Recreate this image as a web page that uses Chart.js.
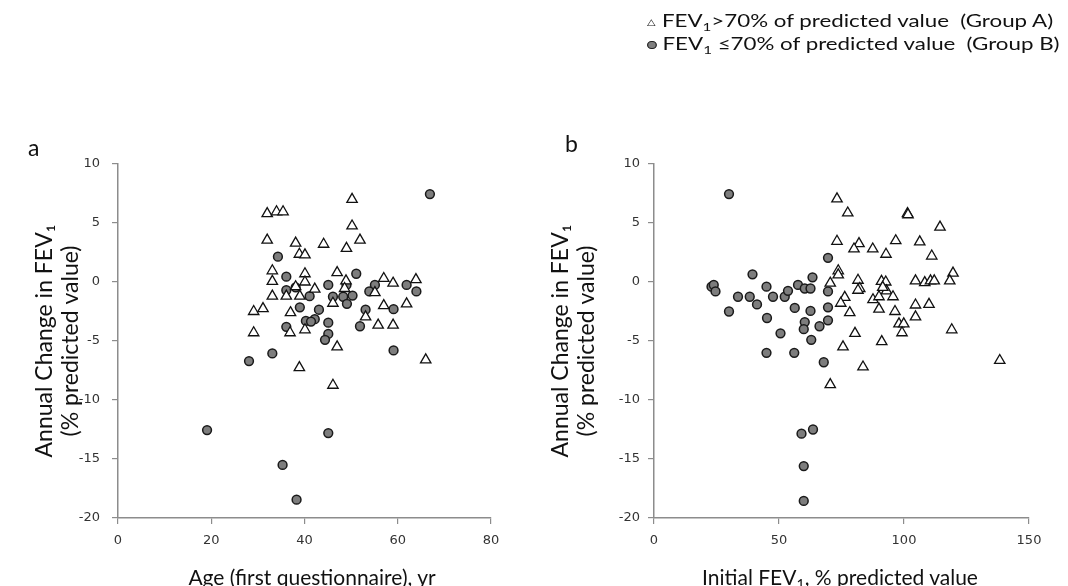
<!DOCTYPE html>
<html><head><meta charset="utf-8">
<script src="https://cdn.jsdelivr.net/npm/chart.js@4/dist/chart.umd.min.js"></script>
<style>
html,body{margin:0;padding:0;background:#fff;width:1068px;height:586px;overflow:hidden;}
.wrap{position:absolute;top:0;height:586px;width:534px;}
#wa{left:0}
#wb{left:534px}
.lbl{position:absolute;font-family:Lato,"Liberation Sans",sans-serif;color:#111;white-space:nowrap;line-height:1;}
.xt{font-size:21px;transform:translateX(-50%);}
sub{font-size:68%;vertical-align:-0.3em;line-height:0}
.leg{font-size:18px;transform:scaleX(1.24);transform-origin:0 50%;}
.tri{display:inline-block;font-size:9px;width:12px;vertical-align:2px;}
.dot{display:inline-block;width:5.5px;height:6.5px;border-radius:50%;background:#7f7f7f;border:1.2px solid #222;margin-right:5px;vertical-align:1px;}
.grp{margin-left:9px;}
</style></head>
<body>
<div class="wrap" id="wa"><canvas id="ca"></canvas></div>
<div class="wrap" id="wb"><canvas id="cb"></canvas></div>
<div class="lbl" style="left:28px;top:136px;font-size:23px">a</div>
<div class="lbl" style="left:565px;top:132px;font-size:23px">b</div>
<div class="lbl xt" style="left:312px;top:566px">Age (first questionnaire), yr</div>
<div class="lbl xt" style="left:840px;top:566px">Initial FEV<sub>1</sub>, % predicted value</div>
<div class="lbl leg" style="left:647px;top:11px"><span class="tri">△</span>FEV<sub>1</sub>&gt;70% of predicted value<span class="grp">(Group A)</span></div>
<div class="lbl leg" style="left:647px;top:34px"><span class="dot"></span>FEV<sub>1</sub> ≤70% of predicted value<span class="grp">(Group B)</span></div>
<script>
// Panel a: age vs annual change
const ageGroupA = [32.0,34.0,35.4,50.2,50.2,32.0,38.1,44.1,49.0,51.9,38.9,40.1,33.1,33.1,40.1,40.1,47.0,48.9,57.0,59.0,63.9,33.1,36.1,39.0,42.2,29.1,31.1,37.0,46.1,53.1,55.1,57.0,61.9,29.1,36.9,40.1,55.8,59.0,47.0,38.9,46.1,38.1,48.6,66.0];
const changeByAgeA = [5.8,5.95,5.95,7.0,4.75,3.55,3.3,3.2,2.85,3.55,2.35,2.3,0.95,0.05,0.7,0.0,0.8,0.1,0.3,-0.1,0.2,-1.2,-1.2,-1.2,-0.6,-2.5,-2.25,-2.6,-1.8,-2.95,-0.9,-2.0,-1.85,-4.3,-4.3,-4.05,-3.65,-3.65,-5.5,-7.25,-8.75,-0.4,-0.55,-6.6];
const ageGroupB = [66.9,34.3,36.1,51.1,45.1,49.0,55.1,53.9,61.9,64.0,41.1,46.1,48.3,50.3,49.1,39.0,43.1,59.1,53.1,40.3,42.2,45.1,51.9,36.1,45.1,44.4,33.1,59.1,36.1,38.1,28.1,19.1,45.1,35.3,38.3,41.4];
const changeByAgeB = [7.45,2.15,0.45,0.7,-0.25,-0.25,-0.25,-0.8,-0.25,-0.8,-1.2,-1.25,-1.25,-1.15,-1.85,-2.15,-2.35,-2.3,-2.35,-3.3,-3.15,-3.45,-3.75,-3.8,-4.4,-4.9,-6.05,-5.8,-0.7,-0.45,-6.7,-12.55,-12.8,-15.5,-18.45,-3.35];
// Panel b: initial FEV1 vs annual change
const fevGroupA = [73.2,77.5,101.4,101.6,114.4,73.2,82.0,80.0,87.5,92.8,96.7,106.3,111.1,73.7,73.7,70.5,81.6,91.0,92.7,104.6,108.3,110.6,112.1,119.6,118.3,82.3,81.6,76.3,74.7,87.6,93.0,95.6,78.3,90.0,96.4,104.6,110.0,104.6,98.0,99.9,99.2,119.1,80.4,91.1,75.6,83.6,70.5,138.3,91.5,90.0];
const changeByFevA = [7.05,5.85,5.8,5.7,4.65,3.45,3.25,2.8,2.8,2.35,3.5,3.4,2.2,0.95,0.6,-0.1,0.15,0.05,0.0,0.1,-0.05,0.1,0.1,0.75,0.1,-0.55,-0.7,-1.3,-1.8,-1.5,-0.75,-1.25,-2.6,-2.3,-2.5,-1.95,-1.9,-2.95,-3.55,-3.55,-4.3,-4.05,-4.35,-5.05,-5.5,-7.2,-8.7,-6.65,-0.45,-1.25];
const fevGroupB = [30.0,23.0,23.9,24.6,30.0,33.6,39.4,38.3,41.2,45.0,45.2,47.6,50.6,52.3,53.6,56.3,57.6,60.3,62.6,63.4,62.6,60.3,59.9,62.9,69.6,69.6,69.6,66.2,69.6,67.9,45.0,56.1,59.0,63.6,59.9,59.9];
const changeByFevB = [7.45,-0.4,-0.25,-0.8,-2.5,-1.25,0.65,-1.25,-1.9,-0.4,-3.05,-1.25,-4.35,-1.25,-0.75,-2.2,-0.25,-0.55,-0.55,0.4,-2.45,-3.4,-4.0,-4.9,2.05,-0.8,-2.15,-3.75,-3.25,-6.8,-6.0,-6.0,-12.85,-12.5,-15.6,-18.55];
const yTicks = [-20,-15,-10,-5,0,5,10];

const pts = (xs, ys) => xs.map((x, i) => ({x: x, y: ys[i]}));
const axisGrey = '#8c8c8c';

function makeChart(id, xsA, ysA, xsB, ysB, xMax, xStep, yAxisWidth, rightPad, titlePad, yTickPad) {
  return new Chart(document.getElementById(id), {
    type: 'scatter',
    data: {
      datasets: [
        {label: 'Group A', data: pts(xsA, ysA), pointStyle: 'triangle', pointRadius: 6,
         backgroundColor: '#ffffff', borderColor: '#111111', borderWidth: 1.3, clip: false},
        {label: 'Group B', data: pts(xsB, ysB), pointStyle: 'circle', pointRadius: 4.4,
         backgroundColor: '#7d7d7d', borderColor: '#1a1a1a', borderWidth: 1.5, clip: false}
      ]
    },
    options: {
      responsive: true, maintainAspectRatio: false, animation: false,
      layout: {padding: {top: 164, right: rightPad, left: 0, bottom: 0}},
      plugins: {legend: {display: false}, tooltip: {enabled: false}},
      scales: {
        x: {
          type: 'linear', min: 0, max: xMax,
          afterFit: s => { s.height = 68; },
          ticks: {stepSize: xStep, padding: 9, color: '#333', font: {family: 'DejaVu Sans', size: 13}},
          grid: {drawOnChartArea: false, drawTicks: true, tickLength: 6, color: axisGrey, lineWidth: 1.2},
          border: {color: axisGrey, width: 1.5},
          title: {display: false}
        },
        y: {
          type: 'linear', min: -20, max: 10,
          afterFit: s => { s.width = yAxisWidth; },
          afterBuildTicks: s => { s.ticks = yTicks.map(v => ({value: v})); },
          ticks: {padding: yTickPad, color: '#333', font: {family: 'DejaVu Sans', size: 13}},
          grid: {drawOnChartArea: false, drawTicks: true, tickLength: 6, color: axisGrey, lineWidth: 1.2},
          border: {color: axisGrey, width: 1.5},
          title: {display: true, text: ['Annual Change in FEV\u2081', '(% predicted value)'],
                  color: '#111', font: {family: 'Lato', size: 23, lineHeight: 1.14},
                  padding: {top: titlePad, bottom: 0}}
        }
      }
    }
  });
}
makeChart('ca', ageGroupA, changeByAgeA, ageGroupB, changeByAgeB, 80, 20, 118, 43, 31, 12);
makeChart('cb', fevGroupA, changeByFevA, fevGroupB, changeByFevB, 150, 50, 120, 39, 13, 8);
</script>
</body></html>
